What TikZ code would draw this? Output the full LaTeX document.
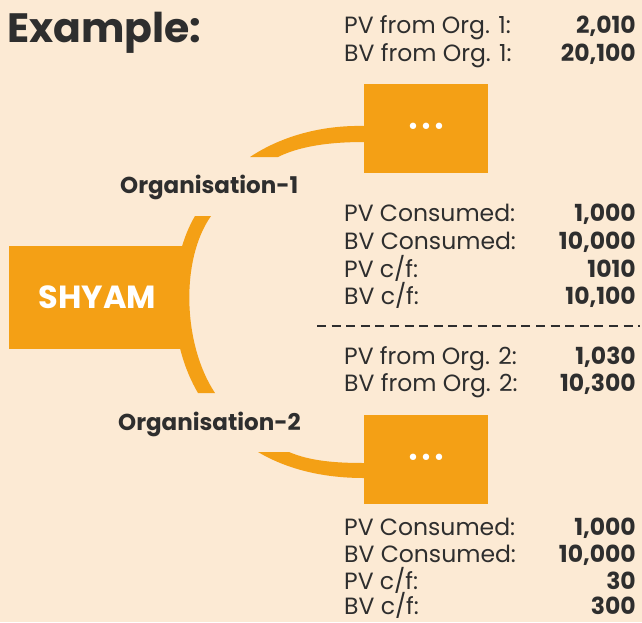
\documentclass[tikz,border=0pt]{standalone}
\usepackage{fontspec}
\setmainfont{Poppins}
\newfontfamily\dotfont{DejaVu Sans}
\definecolor{bgpeach}{HTML}{FCEAD4}
\definecolor{orgorange}{HTML}{F4A015}
\definecolor{txtgray}{HTML}{2E2E2E}
\begin{document}
\begin{tikzpicture}[x=1pt,y=-1pt]
 \tikzset{lbl/.style={anchor=base west,inner sep=0,text=txtgray,font=\fontsize{23.5}{23.5}\selectfont}}
 \tikzset{val/.style={anchor=base east,inner sep=0,text=txtgray,font=\fontsize{23.5}{23.5}\selectfont\bfseries}}
 \tikzset{orgbox/.style={fill=orgorange,minimum width=124pt,minimum height=89pt,inner sep=0,text=white,font=\dotfont\fontsize{22}{22}\selectfont}}
 \tikzset{orglbl/.style={anchor=base west,inner sep=0,text=txtgray,font=\fontsize{23}{23}\selectfont\bfseries}}
  \fill[bgpeach] (0,0) rectangle (642,622);
  \node[anchor=base west,inner sep=0,text=txtgray,font=\fontsize{41}{41}\selectfont\bfseries] (title) at (7,42) {Example:};
  \node[lbl] (pvone) at (344,33) {PV from Org. 1:};
  \node[val] (pvonev) at (636,33) {2,010};
  \node[lbl] (bvone) at (344,61) {BV from Org. 1:};
  \node[val] (bvonev) at (636,61) {20,100};
  \node[orgbox] (orgone) at (426,128.5) {•••};
  \fill[orgorange] (364,126) .. controls (320,125) and (280,137) .. (250,157) -- (278,157) .. controls (300,146) and (330,142) .. (364,142) -- cycle;
  \node[orglbl] (orgonel) at (120,193) {Organisation-1};
  \node[fill=orgorange,minimum width=177pt,minimum height=103pt,inner sep=0,text=white,font=\fontsize{32}{32}\selectfont\bfseries] (shyam) at (97.5,297) {SHYAM};
  \fill[orgorange] (195,216) .. controls (170,258) and (164,335) .. (198,393) -- (215,393) .. controls (183,345) and (180,260) .. (211,216) -- cycle;
  \node[lbl] (pvcone) at (344,221) {PV Consumed:};
  \node[val] (pvconev) at (636,221) {1,000};
  \node[lbl] (bvcone) at (344,249) {BV Consumed:};
  \node[val] (bvconev) at (636,249) {10,000};
  \node[lbl] (pvcfone) at (344,277) {PV c/f:};
  \node[val] (pvcfonev) at (636,277) {1010};
  \node[lbl] (bvcfone) at (344,304) {BV c/f:};
  \node[val] (bvcfonev) at (636,304) {10,100};
  \draw[txtgray,line width=1.8pt,dash pattern=on 9pt off 5.6pt] (317,326) -- (640,326);
  \node[lbl] (pvtwo) at (344,364) {PV from Org. 2:};
  \node[val] (pvtwov) at (636,364) {1,030};
  \node[lbl] (bvtwo) at (344,391) {BV from Org. 2:};
  \node[val] (bvtwov) at (636,391) {10,300};
  \node[orglbl] (orgtwol) at (118,430) {Organisation-2};
  \node[orgbox] (orgtwo) at (426,459.5) {•••};
  \fill[orgorange] (289,452) .. controls (310,461) and (335,463) .. (364,463) -- (364,478) .. controls (320,478) and (285,468) .. (258,452) -- cycle;
  \node[lbl] (pvctwo) at (344,535) {PV Consumed:};
  \node[val] (pvctwov) at (636,535) {1,000};
  \node[lbl] (bvctwo) at (344,562) {BV Consumed:};
  \node[val] (bvctwov) at (636,562) {10,000};
  \node[lbl] (pvcftwo) at (344,589) {PV c/f:};
  \node[val] (pvcftwov) at (636,589) {30};
  \node[lbl] (bvcftwo) at (344,614) {BV c/f:};
  \node[val] (bvcftwov) at (636,614) {300};
\end{tikzpicture}
\end{document}
